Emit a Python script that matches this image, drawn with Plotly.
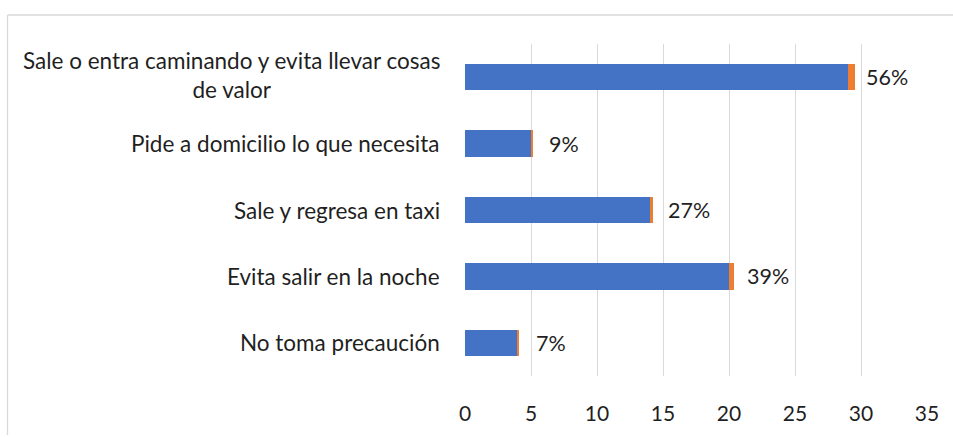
import plotly.graph_objects as go

categories = [
    "Sale o entra caminando y evita llevar cosas<br>de valor",
    "Pide a domicilio lo que necesita",
    "Sale y regresa en taxi",
    "Evita salir en la noche",
    "No toma precaución",
]
counts = [29, 5, 14, 20, 4]
shares = [0.56, 0.09, 0.27, 0.39, 0.07]
x_ticks = [0, 5, 10, 15, 20, 25, 30, 35]

W, H = 953, 437
L, R, T, B = 465, 26, 44, 55
FONT = "Lato"
TXT = "#1f1f1f"

fig = go.Figure()
fig.add_trace(go.Bar(y=categories, x=counts, orientation="h",
                     marker=dict(color="#4472C4", line=dict(width=0)),
                     hoverinfo="x+y"))
fig.add_trace(go.Bar(y=categories, x=shares, orientation="h",
                     marker=dict(color="#ED7D31", line=dict(width=0)),
                     hoverinfo="x+y"))

for i, (c, v, s) in enumerate(zip(categories, counts, shares)):
    fig.add_annotation(x=v, y=c, xref="x", yref="y", text=f"{round(s*100)}%",
                       showarrow=False, xanchor="left", xshift=16,
                       font=dict(family=FONT, size=21.5, color=TXT))
    fig.add_annotation(x=0, y=c, xref="paper", yref="y", text=c,
                       showarrow=False, xanchor="right", align="center",
                       xshift=-23, yshift=2 if i == 0 else 0,
                       font=dict(family=FONT, size=22.5, color=TXT))

pw = W - L - R
ph = H - T - B
def px2paper_x(px):
    return (px - L) / pw
def px2paper_y(py):
    return (H - B - py) / ph

fig.add_shape(type="line", xref="paper", yref="paper",
              x0=px2paper_x(7.5), x1=px2paper_x(W + 5),
              y0=px2paper_y(14.5), y1=px2paper_y(14.5),
              line=dict(color="#D9D9D9", width=1.3))
fig.add_shape(type="line", xref="paper", yref="paper",
              x0=px2paper_x(7.5), x1=px2paper_x(7.5),
              y0=px2paper_y(14.5), y1=px2paper_y(H + 5),
              line=dict(color="#D9D9D9", width=1.3))

fig.update_layout(
    width=W, height=H,
    margin=dict(l=L, r=R, t=T, b=B, pad=0),
    barmode="stack", bargap=0.6, showlegend=False,
    plot_bgcolor="white", paper_bgcolor="white",
    font=dict(family=FONT, color=TXT),
)
fig.update_xaxes(range=[0, 35], tickvals=x_ticks, showgrid=True,
                 gridcolor="#D9D9D9", gridwidth=1.3, zeroline=False,
                 showline=False, ticks="outside", ticklen=19,
                 tickcolor="rgba(0,0,0,0)",
                 tickfont=dict(family=FONT, size=21, color=TXT))
fig.update_yaxes(autorange="reversed", showticklabels=False, showgrid=False,
                 zeroline=False, showline=False)

fig.write_html("out.html",
               config={"displayModeBar": False},
               post_script="document.body.style.margin='0';"
                           "document.body.style.overflow='hidden';")
